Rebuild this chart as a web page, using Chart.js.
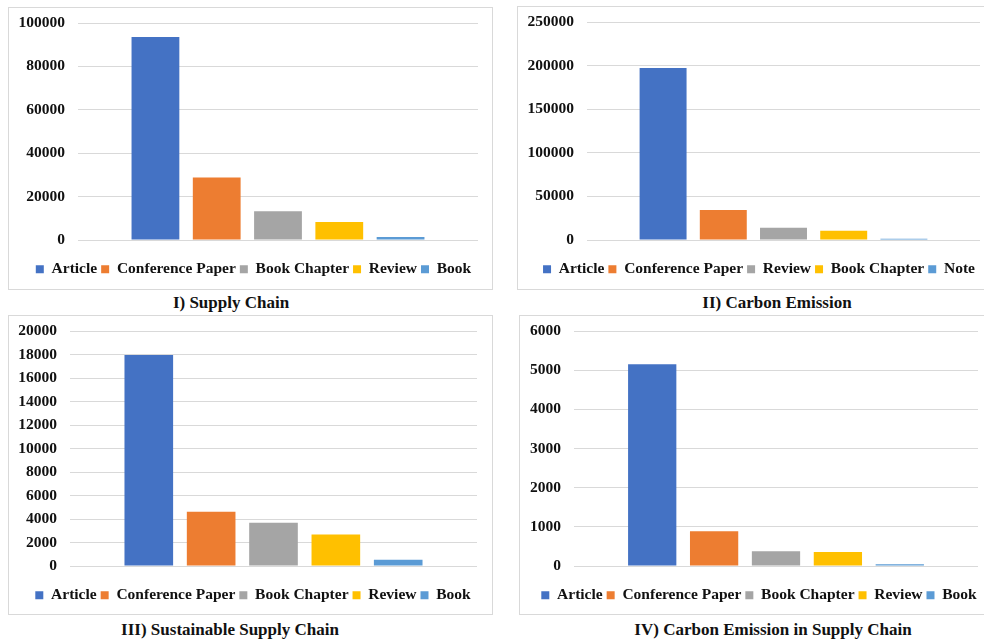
<!DOCTYPE html>
<html>
<head>
<meta charset="utf-8">
<script src="https://cdn.jsdelivr.net/npm/chart.js@4.4.1/dist/chart.umd.min.js"></script>
<style>
  html, body { margin: 0; padding: 0; background: #fff; }
  body { width: 984px; height: 644px; position: relative; overflow: hidden; }
  .frame { position: absolute; border: 1px solid #d9d9d9; box-sizing: border-box; }
  canvas.panel { position: absolute; }
  .caption {
    position: absolute; text-align: center; white-space: nowrap;
    font: bold 17px "Liberation Serif", "Times New Roman", serif; color: #111;
  }
</style>
</head>
<body>
<script>
// document types per search, in the order they appear in each legend
const docTypesSupply = ['Article', 'Conference Paper', 'Book Chapter', 'Review', 'Book'];
const docTypesCarbon = ['Article', 'Conference Paper', 'Review', 'Book Chapter', 'Note'];

// number of documents per type
const countsSupply = [93500, 28800, 13300, 8300, 1400];
const countsCarbon = [197200, 34500, 14100, 10700, 1600];
const countsSustainable = [17950, 4620, 3680, 2680, 530];
const countsCarbonSupply = [5150, 890, 380, 360, 45];

const panelTitles = [
    'I) Supply Chain',
    'II) Carbon Emission',
    'III) Sustainable Supply Chain',
    'IV) Carbon Emission in Supply Chain'
];
const axisMax = [100000, 250000, 20000, 6000];
const axisStep = [20000, 50000, 2000, 1000];

const seriesColors = ['#4472C4', '#ED7D31', '#A5A5A5', '#FFC000', '#5B9BD5'];

const FONT = '"Liberation Serif", "Times New Roman", serif';

// frame position and inner spacing for each panel, pad = [top, right, bottom]
const panels = [
    { types: docTypesSupply, counts: countsSupply, box: [8, 7, 485, 283], axisW: 70, pad: [16, 15, 3], caption: [231, 293] },
    { types: docTypesCarbon, counts: countsCarbon, box: [517, 6, 470, 284], axisW: 70, pad: [16, 7, 3], caption: [777, 293] },
    { types: docTypesSupply, counts: countsSustainable, box: [8, 315, 485, 300], axisW: 62, pad: [16, 16, 2], caption: [230, 620] },
    { types: docTypesSupply, counts: countsCarbonSupply, box: [519, 315, 468, 300], axisW: 55, pad: [16, 9, 2], caption: [773, 620] }
];

// the legend sits a little right of the frame centre
const legendNudge = {
    id: 'legendNudge',
    afterLayout(chart, args, opts) {
        const lg = chart.legend;
        if (!lg) return;
        lg.left += opts.dx;
        lg.right += opts.dx;
    }
};

Chart.defaults.font.family = FONT;
Chart.defaults.color = '#111';

panels.forEach((p, idx) => {
    const [x, y, w, h] = p.box;

    const frame = document.createElement('div');
    frame.className = 'frame';
    Object.assign(frame.style, { left: x + 'px', top: y + 'px', width: w + 'px', height: h + 'px' });
    document.body.appendChild(frame);

    const canvas = document.createElement('canvas');
    canvas.className = 'panel';
    canvas.width = w;
    canvas.height = h;
    Object.assign(canvas.style, { left: x + 'px', top: y + 'px', width: w + 'px', height: h + 'px' });
    document.body.appendChild(canvas);

    const cap = document.createElement('div');
    cap.className = 'caption';
    cap.textContent = panelTitles[idx];
    cap.style.left = (p.caption[0] - 200) + 'px';
    cap.style.width = '400px';
    cap.style.top = p.caption[1] + 'px';
    document.body.appendChild(cap);

    new Chart(canvas, {
        type: 'bar',
        data: {
            labels: [''],
            datasets: p.types.map((t, i) => ({
                label: t,
                data: [p.counts[i]],
                backgroundColor: seriesColors[i],
                categoryPercentage: 0.766,
                barPercentage: 0.78
            }))
        },
        plugins: [legendNudge],
        options: {
            responsive: false,
            animation: false,
            devicePixelRatio: 1,
            layout: { padding: { top: p.pad[0], right: p.pad[1], bottom: p.pad[2], left: 0 } },
            scales: {
                x: { display: false },
                y: {
                    min: 0,
                    max: axisMax[idx],
                    afterFit: s => { s.width = p.axisW; },
                    border: { display: false },
                    // invisible tick marks keep the labels off the grid lines
                    grid: { color: '#d9d9d9', drawTicks: true, tickLength: 13, tickColor: 'rgba(0,0,0,0)' },
                    ticks: {
                        stepSize: axisStep[idx],
                        padding: 0,
                        font: { size: 15.5, weight: 'bold' },
                        callback: v => String(v)
                    }
                }
            },
            plugins: {
                tooltip: { enabled: false },
                legendNudge: { dx: 10.5 },
                legend: {
                    position: 'bottom',
                    // empty title only spaces the legend away from the axis
                    title: { display: true, text: '', font: { size: 2 }, padding: { top: 15, bottom: 0 } },
                    labels: {
                        boxWidth: 8,
                        boxHeight: 8,
                        padding: 4,
                        font: { size: 15.5, weight: 'bold' }
                    }
                }
            }
        }
    });
});
</script>
</body>
</html>
